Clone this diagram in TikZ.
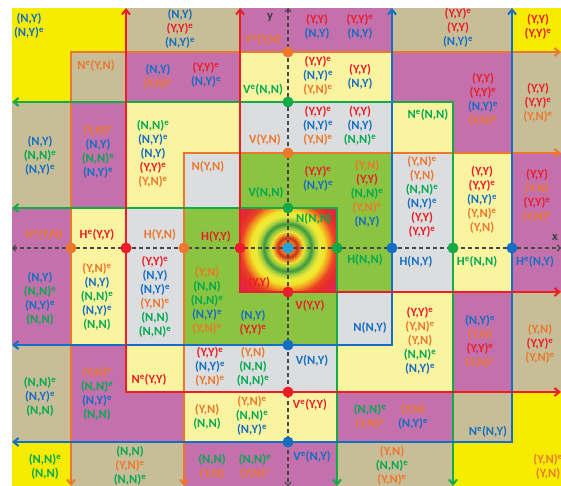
\documentclass[tikz,border=0pt]{standalone}
\usepackage{fontspec}
\setmainfont{Carlito}
\usetikzlibrary{arrows.meta}
\definecolor{cY}{RGB}{247,236,0}
\definecolor{cT}{RGB}{199,189,151}
\definecolor{cM}{RGB}{196,112,172}
\definecolor{cL}{RGB}{250,243,160}
\definecolor{cG}{RGB}{219,221,223}
\definecolor{cV}{RGB}{138,196,64}
\definecolor{tB}{RGB}{20,110,195}
\definecolor{tR}{RGB}{235,30,40}
\definecolor{tO}{RGB}{235,120,45}
\definecolor{tG}{RGB}{0,170,80}
\definecolor{lG}{RGB}{20,170,70}
\definecolor{sky}{RGB}{30,165,225}
\definecolor{rM}{RGB}{212,42,126}
\definecolor{rMR}{RGB}{226,36,90}
\definecolor{rR}{RGB}{229,42,42}
\definecolor{rR2}{RGB}{234,68,38}
\definecolor{rO2}{RGB}{242,155,32}
\definecolor{rY}{RGB}{243,229,42}
\definecolor{rY2}{RGB}{237,235,58}
\definecolor{rLG}{RGB}{168,208,64}
\definecolor{rDG}{RGB}{58,154,64}
\definecolor{rLG2}{RGB}{154,203,60}
\definecolor{rY3}{RGB}{240,228,54}
\definecolor{rO}{RGB}{238,138,34}
\definecolor{rDR}{RGB}{200,50,30}
\definecolor{rO3}{RGB}{232,116,30}
\newcommand\sE{\textsuperscript{e}}
\newcommand\Bl[1]{\textcolor{tB}{#1}}
\newcommand\Rd[1]{\textcolor{tR}{#1}}
\newcommand\Or[1]{\textcolor{tO}{#1}}
\newcommand\Gn[1]{\textcolor{tG}{#1}}
\tikzset{
  lab/.style={font=\bfseries\fontsize{12.5}{14}\selectfont, align=center, inner sep=0pt},
  dotn/.style={circle, minimum size=11pt, inner sep=0pt},
  cline/.style={line width=2pt, {Straight Barb[length=5pt,width=8pt]}-{Straight Barb[length=5pt,width=8pt]}},
  axisline/.style={line width=1.1pt, draw={rgb,255:red,70;green,70;blue,70}, dash pattern=on 4pt off 3pt,
    {Straight Barb[length=3pt,width=6pt]}-{Straight Barb[length=3pt,width=6pt]}}
}
\begin{document}
\begin{tikzpicture}[x=1pt,y=-1pt]
\useasboundingbox (0,0) rectangle (561,486);
% ---- cells
% r0
\fill[cY] (12,8) rectangle (126,52);
\fill[cT] (126,8) rectangle (240,52);
\fill[cM] (240,8) rectangle (392,52);
\fill[cT] (392,8) rectangle (512,52);
\fill[cY] (512,8) rectangle (561,52);
% r1
\fill[cY] (12,52) rectangle (71,102);
\fill[cT] (71,52) rectangle (126,102);
\fill[cM] (126,52) rectangle (240,102);
\fill[cL] (240,52) rectangle (392,102);
\fill[cM] (392,52) rectangle (512,102);
\fill[cT] (512,52) rectangle (561,102);
% r2
\fill[cT] (12,102) rectangle (71,153);
\fill[cM] (71,102) rectangle (126,153);
\fill[cL] (126,102) rectangle (240,153);
\fill[cG] (240,102) rectangle (392,153);
\fill[cL] (392,102) rectangle (453,153);
\fill[cM] (453,102) rectangle (512,153);
\fill[cT] (512,102) rectangle (561,153);
% r3
\fill[cT] (12,153) rectangle (71,208);
\fill[cM] (71,153) rectangle (126,208);
\fill[cL] (126,153) rectangle (184,208);
\fill[cG] (184,153) rectangle (240,208);
\fill[cV] (240,153) rectangle (392,208);
\fill[cG] (392,153) rectangle (453,208);
\fill[cL] (453,153) rectangle (512,208);
\fill[cM] (512,153) rectangle (561,208);
% r4-r5
\fill[cM] (12,208) rectangle (71,292);
\fill[cL] (71,208) rectangle (126,292);
\fill[cG] (126,208) rectangle (184,292);
\fill[cV] (184,208) rectangle (240,292);
\fill[cV] (337,208) rectangle (392,292);
\fill[cG] (392,208) rectangle (453,292);
\fill[cL] (453,208) rectangle (512,292);
\fill[cM] (512,208) rectangle (561,292);
% r6
\fill[cM] (12,292) rectangle (71,345);
\fill[cL] (71,292) rectangle (126,345);
\fill[cG] (126,292) rectangle (184,345);
\fill[cV] (184,292) rectangle (337,345);
\fill[cG] (337,292) rectangle (392,345);
\fill[cL] (392,292) rectangle (453,345);
\fill[cM] (453,292) rectangle (512,345);
\fill[cT] (512,292) rectangle (561,345);
% r7
\fill[cT] (12,345) rectangle (71,392);
\fill[cM] (71,345) rectangle (126,392);
\fill[cL] (126,345) rectangle (184,392);
\fill[cG] (184,345) rectangle (337,392);
\fill[cL] (337,345) rectangle (453,392);
\fill[cM] (453,345) rectangle (512,392);
\fill[cT] (512,345) rectangle (561,392);
% r8
\fill[cT] (12,392) rectangle (71,442);
\fill[cM] (71,392) rectangle (184,442);
\fill[cL] (184,392) rectangle (337,442);
\fill[cM] (337,392) rectangle (453,442);
\fill[cT] (453,392) rectangle (512,442);
\fill[cY] (512,392) rectangle (561,442);
% r9
\fill[cY] (12,442) rectangle (71,486);
\fill[cT] (71,442) rectangle (184,486);
\fill[cM] (184,442) rectangle (337,486);
\fill[cT] (337,442) rectangle (453,486);
\fill[cY] (453,442) rectangle (561,486);
% ---- centre rings
\begin{scope}
\clip (240,208) rectangle (337,292);
\fill[rM] (240,208) rectangle (337,292);
\foreach \ra/\rb/\ca/\cb in {72/62/rM/rMR, 62/54/rMR/rR, 54/47/rR/rR2, 47/42/rR2/rO2, 42/37/rO2/rY,
  37/32/rY/rY2, 32/28/rY2/rLG, 28/24/rLG/rDG, 24/20/rDG/rLG2, 20/16/rLG2/rY3, 16/13/rY3/rO,
  13/10/rO/rDR, 10/7/rDR/rO3} {
  \foreach \k in {0,...,7} {
    \pgfmathsetmacro\rr{\ra-(\ra-\rb)*\k/8}
    \pgfmathsetmacro\pp{100*\k/8}
    \fill[\cb!\pp!\ca] (288,248) circle[radius=\rr pt];
  }
}
\fill[rO3] (288,248) circle[radius=7pt];
\end{scope}
% ---- coloured L lines
\coordinate (oa) at (71,52);  \coordinate (oar) at (561,52);  \coordinate (oad) at (71,486);
\coordinate (ob) at (184,153); \coordinate (obr) at (561,153); \coordinate (obd) at (184,486);
\coordinate (ra) at (126,392); \coordinate (rau) at (126,8);  \coordinate (rar) at (561,392);
\coordinate (rb) at (240,292); \coordinate (rbu) at (240,8);  \coordinate (rbr) at (561,292);
\coordinate (ga) at (453,102); \coordinate (gal) at (12,102); \coordinate (gad) at (453,486);
\coordinate (gb) at (337,208); \coordinate (gbl) at (12,208); \coordinate (gbd) at (337,486);
\coordinate (ba) at (392,345); \coordinate (bau) at (392,8);  \coordinate (bal) at (12,345);
\coordinate (bb) at (512,442); \coordinate (bbu) at (512,8);  \coordinate (bbl) at (12,442);
\draw[cline, tO] (oar) -- (oa) -- (oad);
\draw[cline, tO] (obr) -- (ob) -- (obd);
\draw[cline, lG] (gal) -- (ga) -- (gad);
\draw[cline, lG] (gbl) -- (gb) -- (gbd);
\draw[cline, tB] (bau) -- (ba) -- (bal);
\draw[cline, tB] (bbu) -- (bb) -- (bbl);
\draw[cline, tR] (rau) -- (ra) -- (rar);
\draw[cline, tR] (rbu) -- (rb) -- (rbr);
% ---- axes
\coordinate (xl) at (12,248); \coordinate (xr) at (561,248);
\coordinate (yt) at (288,8);  \coordinate (yb) at (288,486);
\draw[axisline] (xl) -- (xr);
\draw[axisline] (yt) -- (yb);
% ---- dots
\node[dotn, fill=tO] (h1) at (71,248) {};
\node[dotn, fill=tR] (h2) at (126,248) {};
\node[dotn, fill=tO] (h3) at (184,248) {};
\node[dotn, fill=tR] (h4) at (240,248) {};
\node[dotn, fill=lG] (h5) at (337,248) {};
\node[dotn, fill=tB] (h6) at (392,248) {};
\node[dotn, fill=lG] (h7) at (453,248) {};
\node[dotn, fill=tB] (h8) at (512,248) {};
\node[dotn, fill=tO] (v1) at (288,52) {};
\node[dotn, fill=lG] (v2) at (288,102) {};
\node[dotn, fill=tO] (v3) at (288,153) {};
\node[dotn, fill=lG] (v4) at (288,208) {};
\node[dotn, fill=tR] (v5) at (288,292) {};
\node[dotn, fill=tB] (v6) at (288,345) {};
\node[dotn, fill=tR] (v7) at (288,392) {};
\node[dotn, fill=tB] (v8) at (288,442) {};
\node[dotn, fill=sky] (c0) at (288,248) {};
% ---- texts
\node[lab] (n1) at (29,26) {\Bl{(N,Y)}\\\Bl{(N,Y)\sE}};
\node[lab] (n2) at (180,29) {\Bl{(N,Y)}\\\Rd{(Y,Y)\sE}\\\Bl{(N,Y)\sE}};
\node[lab] (n3) at (263,40) {\Or{V\sE(Y,N)}};
\node[lab] (n4) at (317,27) {\Rd{(Y,Y)}\\\Bl{(N,Y)}};
\node[lab] (n5) at (360,27) {\Rd{(Y,Y)\sE}\\\Bl{(N,Y)}};
\node[lab] (n6) at (458,28) {\Rd{(Y,Y)\sE}\\\Rd{(Y,Y)}\\\Bl{(N,Y)\sE}};
\node[lab] (n7) at (538,27) {\Rd{(Y,Y)}\\\Rd{(Y,Y)\sE}};
\node[lab] (n8) at (96,66) {\Or{N\sE(Y,N)}};
\node[lab] (n9) at (158,77) {\Bl{(N,Y)}\\\Or{(Y,N)\sE}};
\node[lab] (n10) at (206,75) {\Rd{(Y,Y)\sE}\\\Bl{(N,Y)\sE}};
\node[lab] (n11) at (263,90) {\Gn{V\sE(N,N)}};
\node[lab] (n12) at (318,76) {\Rd{(Y,Y)\sE}\\\Bl{(N,Y)\sE}\\\Or{(Y,N)\sE}};
\node[lab] (n13) at (360,77) {\Rd{(Y,Y)}\\\Bl{(N,Y)}};
\node[lab] (n14) at (483,100) {\Rd{(Y,Y)}\\\Rd{(Y,Y)\sE}\\\Bl{(N,Y)\sE}\\\Or{(Y,N)\sE}};
\node[lab] (n15) at (538,103) {\Rd{(Y,Y)}\\\Rd{(Y,Y)\sE}\\\Or{(Y,N)\sE}};
\node[lab] (n16) at (428,115) {\Gn{N\sE(N,N)}};
\node[lab] (n17) at (40,156) {\Bl{(N,Y)}\\\Gn{(N,N)\sE}\\\Bl{(N,Y)\sE}};
\node[lab] (n18) at (98,152) {\Or{(Y,N)\sE}\\\Bl{(N,Y)}\\\Gn{(N,N)\sE}\\\Bl{(N,Y)\sE}};
\node[lab] (n19) at (153,154) {\Gn{(N,N)\sE}\\\Bl{(N,Y)\sE}\\\Bl{(N,Y)}\\\Rd{(Y,Y)\sE}\\\Or{(Y,N)\sE}};
\node[lab] (n20) at (208,167) {\Or{N(Y,N)}};
\node[lab] (n21) at (265,140) {\Or{V(Y,N)}};
\node[lab] (n22) at (318,126) {\Rd{(Y,Y)\sE}\\\Bl{(N,Y)\sE}\\\Or{(Y,N)\sE}};
\node[lab] (n23) at (360,126) {\Rd{(Y,Y)}\\\Bl{(N,Y)}\\\Gn{(N,N)\sE}};
\node[lab] (n24) at (266,193) {\Gn{V(N,N)}};
\node[lab] (n25) at (318,179) {\Rd{(Y,Y)\sE}\\\Bl{(N,Y)\sE}};
\node[lab] (n26) at (367,194) {\Or{(Y,N)}\\\Rd{(Y,Y)}\\\Gn{(N,N)\sE}\\\Or{(Y,N)\sE}\\\Bl{(N,Y)}};
\node[lab] (n27) at (422,197) {\Or{(Y,N)\sE}\\\Or{(Y,N)}\\\Gn{(N,N)\sE}\\\Bl{(N,Y)\sE}\\\Rd{(Y,Y)}\\\Rd{(Y,Y)\sE}};
\node[lab] (n28) at (482,200) {\Rd{(Y,Y)}\\\Rd{(Y,Y)\sE}\\\Bl{(N,Y)\sE}\\\Or{(Y,N)\sE}\\\Or{(Y,N)}};
\node[lab] (n29) at (537,196) {\Rd{(Y,Y)}\\\Or{(Y,N)}\\\Rd{(Y,Y)\sE}\\\Or{(Y,N)\sE}};
\node[lab] (n30) at (44,235) {\Or{H\sE(Y,N)}};
\node[lab] (n31) at (97,235) {\Rd{H\sE(Y,Y)}};
\node[lab] (n32) at (160,235) {\Or{H(Y,N)}};
\node[lab] (n33) at (216,237) {\Rd{H(Y,Y)}};
\node[lab] (n34) at (314,219) {\Gn{N(N,N)}};
\node[lab] (n35) at (259,283) {\Rd{(Y,Y)}};
\node[lab] (n36) at (365,260) {\Gn{H(N,N)}};
\node[lab] (n37) at (416,262) {\Bl{H(N,Y)}};
\node[lab] (n38) at (477,262) {\Gn{H\sE(N,N)}};
\node[lab] (n39) at (535,262) {\Bl{H\sE(N,Y)}};
\node[lab, text={rgb,255:red,60;green,60;blue,60}] (n40) at (555,237) {x};
\node[lab, text={rgb,255:red,60;green,60;blue,60}] (n41) at (270,17) {y};
\node[lab] (n42) at (40,299) {\Bl{(N,Y)}\\\Gn{(N,N)\sE}\\\Bl{(N,Y)\sE}\\\Gn{(N,N)}};
\node[lab] (n43) at (97,297) {\Or{(Y,N)\sE}\\\Bl{(N,Y)}\\\Gn{(N,N)\sE}\\\Bl{(N,Y)\sE}\\\Gn{(N,N)}};
\node[lab] (n44) at (155,297) {\Rd{(Y,Y)\sE}\\\Bl{(N,Y)}\\\Bl{(N,Y)\sE}\\\Or{(Y,N)\sE}\\\Gn{(N,N)}\\\Gn{(N,N)\sE}};
\node[lab] (n45) at (207,301) {\Or{(Y,N)}\\\Gn{(N,N)}\\\Gn{(N,N)\sE}\\\Bl{(N,Y)\sE}\\\Or{(Y,N)\sE}};
\node[lab] (n46) at (253,323) {\Bl{(N,Y)}\\\Rd{(Y,Y)\sE}};
\node[lab] (n47) at (310,306) {\Rd{V(Y,Y)}};
\node[lab] (n48) at (370,328) {\Bl{N(N,Y)}};
\node[lab] (n49) at (420,341) {\Rd{(Y,Y)\sE}\\\Or{(Y,N)\sE}\\\Or{(Y,N)}\\\Gn{(N,N)\sE}\\\Bl{(N,Y)\sE}};
\node[lab] (n50) at (480,342) {\Bl{(N,Y)\sE}\\\Or{(Y,N)}\\\Rd{(Y,Y)\sE}\\\Or{(Y,N)\sE}};
\node[lab] (n51) at (540,344) {\Or{(Y,N)}\\\Rd{(Y,Y)\sE}\\\Or{(Y,N)\sE}};
\node[lab] (n52) at (40,397) {\Gn{(N,N)\sE}\\\Bl{(N,Y)\sE}\\\Gn{(N,N)}};
\node[lab] (n53) at (97,394) {\Or{(Y,N)\sE}\\\Gn{(N,N)\sE}\\\Bl{(N,Y)\sE}\\\Gn{(N,N)}};
\node[lab] (n54) at (149,380) {\Rd{N\sE(Y,Y)}};
\node[lab] (n55) at (210,367) {\Rd{(Y,Y)\sE}\\\Bl{(N,Y)\sE}\\\Or{(Y,N)\sE}};
\node[lab] (n56) at (253,367) {\Or{(Y,N)}\\\Gn{(N,N)}\\\Gn{(N,N)\sE}};
\node[lab] (n57) at (312,361) {\Bl{V(N,Y)}};
\node[lab] (n58) at (207,417) {\Or{(Y,N)}\\\Gn{(N,N)}};
\node[lab] (n59) at (252,416) {\Or{(Y,N)\sE}\\\Gn{(N,N)\sE}\\\Bl{(N,Y)\sE}};
\node[lab] (n60) at (310,405) {\Rd{V\sE(Y,Y)}};
\node[lab] (n61) at (370,417) {\Gn{(N,N)\sE}\\\Or{(Y,N)\sE}};
\node[lab] (n62) at (413,417) {\Or{(Y,N)}\\\Bl{(N,Y)\sE}};
\node[lab] (n63) at (488,432) {\Bl{N\sE(N,Y)}};
\node[lab] (n64) at (45,467) {\Gn{(N,N)\sE}\\\Gn{(N,N)}};
\node[lab] (n65) at (130,466) {\Gn{(N,N)}\\\Or{(Y,N)\sE}\\\Gn{(N,N)\sE}};
\node[lab] (n66) at (212,467) {\Gn{(N,N)}\\\Or{(Y,N)}};
\node[lab] (n67) at (255,467) {\Gn{(N,N)\sE}\\\Or{(Y,N)\sE}};
\node[lab] (n68) at (312,457) {\Bl{V\sE(N,Y)}};
\node[lab] (n69) at (392,466) {\Or{(Y,N)}\\\Gn{(N,N)\sE}\\\Or{(Y,N)\sE}};
\node[lab] (n70) at (548,467) {\Or{(Y,N)\sE}\\\Or{(Y,N)}};
\end{tikzpicture}
\end{document}
